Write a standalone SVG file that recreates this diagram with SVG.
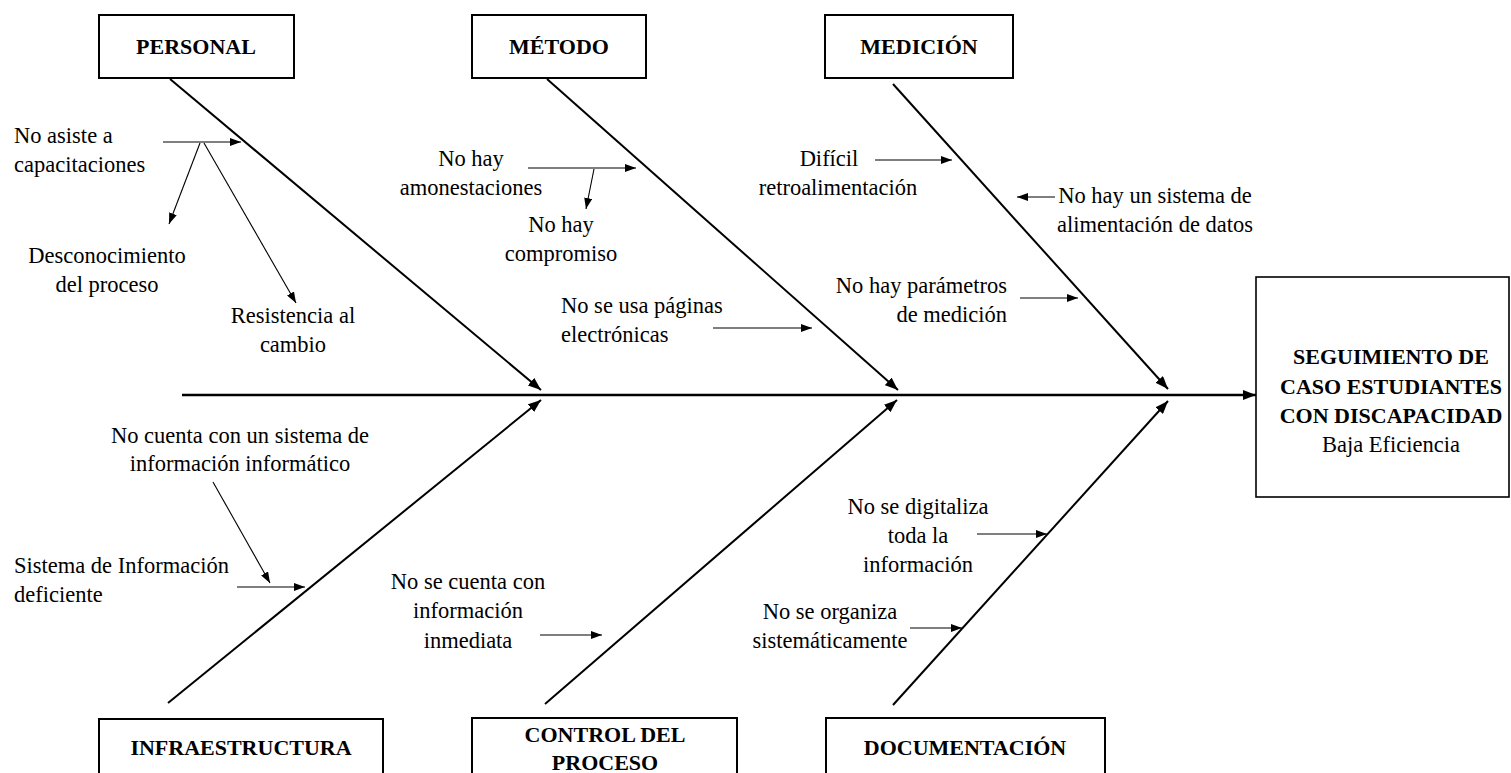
<svg xmlns="http://www.w3.org/2000/svg" width="1511" height="773" viewBox="0 0 1511 773">
<style>
text{font-family:"Liberation Serif","Times New Roman",serif;fill:#000}
.t{font-size:22.5px}
.b{font-size:22px;font-weight:bold}
.m{text-anchor:middle}
.e{text-anchor:end}
.box{fill:#fff;stroke:#000;stroke-width:2}
.bone{stroke:#000;stroke-width:2;fill:none}
.spine{stroke:#000;stroke-width:2.5;fill:none}
.thin{stroke:#000;stroke-width:1.1;fill:none}
</style>
<defs>
<marker id="big" markerUnits="userSpaceOnUse" markerWidth="13" markerHeight="10" refX="13" refY="5" orient="auto"><path d="M0,0 L13,5 L0,10 z" fill="#000"/></marker>
<marker id="sm" markerUnits="userSpaceOnUse" markerWidth="11" markerHeight="8" refX="11" refY="4" orient="auto"><path d="M0,0 L11,4 L0,8 z" fill="#000"/></marker>
</defs>
<rect width="1511" height="773" fill="#fff"/>
<g id="connectors">
<line class="spine" x1="182" y1="395" x2="1256" y2="395" marker-end="url(#big)"/>
<line class="bone" x1="170" y1="79" x2="541" y2="390" marker-end="url(#big)"/>
<line class="bone" x1="547" y1="79" x2="898" y2="390" marker-end="url(#big)"/>
<line class="bone" x1="893" y1="84" x2="1168" y2="389" marker-end="url(#big)"/>
<line class="bone" x1="168" y1="703" x2="541" y2="400" marker-end="url(#big)"/>
<line class="bone" x1="545" y1="704" x2="897" y2="400" marker-end="url(#big)"/>
<line class="bone" x1="893" y1="705" x2="1168" y2="401" marker-end="url(#big)"/>
<line class="thin" x1="163" y1="142" x2="241" y2="142" marker-end="url(#sm)"/>
<line class="thin" x1="200" y1="143" x2="169" y2="224" marker-end="url(#sm)"/>
<line class="thin" x1="204" y1="143" x2="296" y2="303" marker-end="url(#sm)"/>
<line class="thin" x1="528" y1="168" x2="636" y2="168" marker-end="url(#sm)"/>
<line class="thin" x1="594" y1="169" x2="586" y2="209" marker-end="url(#sm)"/>
<line class="thin" x1="713" y1="328" x2="812" y2="328" marker-end="url(#sm)"/>
<line class="thin" x1="875" y1="160" x2="952" y2="160" marker-end="url(#sm)"/>
<line class="thin" x1="1055" y1="197" x2="1017" y2="197" marker-end="url(#sm)"/>
<line class="thin" x1="1020" y1="298" x2="1078" y2="298" marker-end="url(#sm)"/>
<line class="thin" x1="213" y1="482" x2="270" y2="583" marker-end="url(#sm)"/>
<line class="thin" x1="237" y1="587" x2="305" y2="587" marker-end="url(#sm)"/>
<line class="thin" x1="540" y1="635" x2="602" y2="635" marker-end="url(#sm)"/>
<line class="thin" x1="977" y1="534" x2="1047" y2="534" marker-end="url(#sm)"/>
<line class="thin" x1="910" y1="628" x2="962" y2="628" marker-end="url(#sm)"/>
</g>
<g id="box-personal"><rect class="box" x="99" y="15" width="195" height="63"/><text class="b m" x="196" y="54">PERSONAL</text></g>
<g id="box-metodo"><rect class="box" x="472" y="15" width="174" height="63"/><text class="b m" x="559" y="54">MÉTODO</text></g>
<g id="box-medicion"><rect class="box" x="825" y="15" width="188" height="63"/><text class="b m" x="919" y="54">MEDICIÓN</text></g>
<g id="box-infraestructura"><rect class="box" x="99" y="719" width="284" height="80"/><text class="b m" x="241" y="755">INFRAESTRUCTURA</text></g>
<g id="box-control"><rect class="box" x="472" y="718" width="265" height="80"/><text class="b m" x="605" y="742">CONTROL DEL</text><text class="b m" x="605" y="770">PROCESO</text></g>
<g id="box-documentacion"><rect class="box" x="826" y="718" width="279" height="80"/><text class="b m" x="965" y="755">DOCUMENTACIÓN</text></g>
<g id="box-efecto"><rect class="box" x="1256" y="277" width="253" height="220" style="stroke-width:1.6"/>
<text class="b m" x="1391" y="364">SEGUIMIENTO DE</text>
<text class="b m" x="1391" y="394">CASO ESTUDIANTES</text>
<text class="b m" x="1391" y="423">CON DISCAPACIDAD</text>
<text class="t m" x="1391" y="452">Baja Eficiencia</text></g>
<g id="causa-capacitaciones"><text class="t" x="14" y="143">No asiste a</text><text class="t" x="14" y="172">capacitaciones</text></g>
<g id="causa-desconocimiento"><text class="t m" x="107" y="263">Desconocimiento</text><text class="t m" x="107" y="292">del proceso</text></g>
<g id="causa-resistencia"><text class="t m" x="293" y="323">Resistencia al</text><text class="t m" x="293" y="352">cambio</text></g>
<g id="causa-amonestaciones"><text class="t m" x="471" y="166">No hay</text><text class="t m" x="471" y="195">amonestaciones</text></g>
<g id="causa-compromiso"><text class="t m" x="561" y="232">No hay</text><text class="t m" x="561" y="261">compromiso</text></g>
<g id="causa-paginas"><text class="t" x="561" y="313">No se usa páginas</text><text class="t" x="561" y="342">electrónicas</text></g>
<g id="causa-retroalimentacion"><text class="t m" x="829" y="166">Difícil</text><text class="t m" x="838" y="195">retroalimentación</text></g>
<g id="causa-alimentacion"><text class="t m" x="1155" y="203">No hay un sistema de</text><text class="t m" x="1155" y="232">alimentación de datos</text></g>
<g id="causa-parametros"><text class="t e" x="1007" y="293">No hay parámetros</text><text class="t e" x="1007" y="322">de medición</text></g>
<g id="causa-sistema-informatico"><text class="t m" x="240" y="443">No cuenta con un sistema de</text><text class="t m" x="240" y="471">información informático</text></g>
<g id="causa-sistema-deficiente"><text class="t" x="14" y="573">Sistema de Información</text><text class="t" x="14" y="602">deficiente</text></g>
<g id="causa-inmediata"><text class="t m" x="468" y="589">No se cuenta con</text><text class="t m" x="468" y="618">información</text><text class="t m" x="468" y="648">inmediata</text></g>
<g id="causa-digitaliza"><text class="t m" x="918" y="514">No se digitaliza</text><text class="t m" x="918" y="543">toda la</text><text class="t m" x="918" y="572">información</text></g>
<g id="causa-organiza"><text class="t m" x="830" y="619">No se organiza</text><text class="t m" x="830" y="648">sistemáticamente</text></g>
</svg>
